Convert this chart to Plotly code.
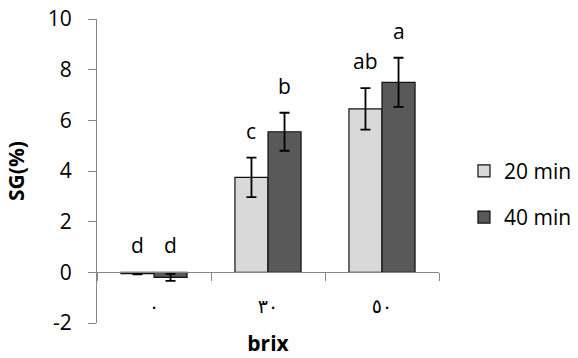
import plotly.graph_objects as go

categories = ["٠", "٣٠", "٥٠"]
series_names = ["20 min", "40 min"]
values_20 = [-0.05, 3.75, 6.45]
values_40 = [-0.2, 5.55, 7.5]
errors_20 = [0.03, 0.78, 0.82]
errors_40 = [0.14, 0.75, 0.97]
letters_20 = ["d", "c", "ab"]
letters_40 = ["d", "b", "a"]
colors = ["#d9d9d9", "#595959"]
y_ticks = [-2, 0, 2, 4, 6, 8, 10]
y_tick_labels = ["-2", "0", "2", "4", "6", "8", "10"]

FONT = "Open Sans, DejaVu Sans, sans-serif"
AXIS_COLOR = "#868686"
BARGAP = 0.42

fig = go.Figure()
for i, (name, vals, errs, col) in enumerate(zip(series_names, [values_20, values_40],
                                               [errors_20, errors_40], colors)):
    fig.add_trace(go.Bar(
        x=categories, y=vals, name=name, legendgroup=name,
        marker=dict(color=col, line=dict(color="#111111", width=1.2)),
        error_y=dict(type="data", array=errs, visible=True, color="black",
                     thickness=1.8, width=5),
    ))

# significance letters above error bars
half = (1 - BARGAP) / 2
for s, (vals, errs, letters) in enumerate([(values_20, errors_20, letters_20),
                                           (values_40, errors_40, letters_40)]):
    off = -half / 2 if s == 0 else half / 2
    for j, (v, e, t) in enumerate(zip(vals, errs, letters)):
        fig.add_annotation(x=j + off, y=max(v + e, 0), xref="x", yref="y", text=t,
                           showarrow=False, yanchor="middle", yshift=27,
                           font=dict(family=FONT, size=21, color="black"))

fig.update_layout(
    width=578, height=358,
    margin=dict(l=97, r=139, t=19, b=35, autoexpand=False),
    paper_bgcolor="white", plot_bgcolor="white",
    barmode="group", bargap=BARGAP, bargroupgap=0,
    font=dict(family=FONT, size=21, color="black"),
    showlegend=True,
    legend=dict(x=1.073, xanchor="left", y=0.567, yanchor="top",
                tracegroupgap=16, font=dict(family=FONT, size=21, color="black"),
                bgcolor="rgba(0,0,0,0)"),
    xaxis=dict(type="category", anchor="free", position=2 / 12, automargin=False,
               showline=True, linecolor=AXIS_COLOR, linewidth=1.3,
               ticks="outside", ticklen=8, tickcolor=AXIS_COLOR, tickwidth=1.3,
               tickson="boundaries", showgrid=False, zeroline=False,
               ticklabelstandoff=17,
               tickfont=dict(family="DejaVu Sans, sans-serif", size=19, color="black"),
               title=dict(text="<b>brix</b>", standoff=20,
                          font=dict(family=FONT, size=21, color="black"))),
    yaxis=dict(range=[-2, 10], tickvals=y_ticks, ticktext=y_tick_labels,
               automargin=False, showline=True, linecolor=AXIS_COLOR,
               linewidth=1.3, ticks="outside", ticklen=8, tickcolor=AXIS_COLOR,
               tickwidth=1.3, showgrid=False, zeroline=False, ticklabelstandoff=12,
               tickfont=dict(family=FONT, size=21, color="black"),
               title=dict(text="<b>SG(%)</b>", standoff=17,
                          font=dict(family=FONT, size=21, color="black"))),
)

fig.write_html("out.html", config={"displayModeBar": False},
               post_script="document.body.style.margin='0';")
